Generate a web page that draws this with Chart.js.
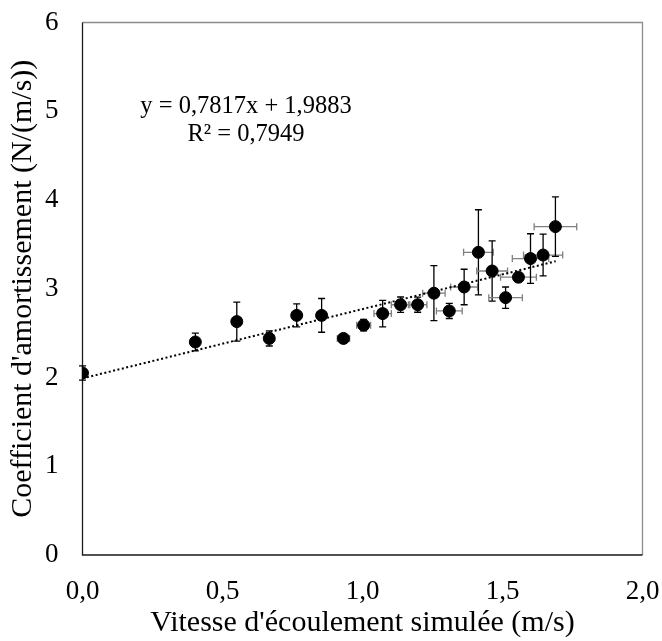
<!DOCTYPE html>
<html>
<head>
<meta charset="utf-8">
<script src="https://cdn.jsdelivr.net/npm/chart.js@4/dist/chart.umd.min.js"></script>
<style>
  html, body { margin: 0; padding: 0; background: #fff; }
  #wrap { width: 662px; height: 641px; }
</style>
</head>
<body>
<div id="wrap"><canvas id="amortChart" width="662" height="641"></canvas></div>
<script>
// données
const vitesse = [0, 0.403, 0.551, 0.667, 0.765, 0.854, 0.932, 1.004, 1.072, 1.136, 1.197,
  1.255, 1.310, 1.363, 1.414, 1.463, 1.511, 1.557, 1.600, 1.645, 1.689];
const coefficient = [2.05, 2.40, 2.63, 2.44, 2.70, 2.70, 2.44, 2.59, 2.72, 2.82, 2.82,
  2.95, 2.75, 3.02, 3.41, 3.20, 2.90, 3.13, 3.34, 3.38, 3.70];
const erreurY = [0.08, 0.10, 0.22, 0.085, 0.13, 0.19, 0.03, 0.064, 0.15, 0.087, 0.085,
  0.31, 0.085, 0.20, 0.48, 0.34, 0.12, 0.05, 0.28, 0.235, 0.336];
const erreurX = [0, 0, 0, 0, 0, 0, 0.022, 0.025, 0.031, 0.033, 0.033,
  0.04, 0.046, 0.048, 0.053, 0.055, 0.06, 0.064, 0.065, 0.07, 0.076];
const tendanceX = [0, 1.69];
const tendanceY = [1.99, 3.31];
const xTickLabels = ['0,0', '0,5', '1,0', '1,5', '2,0'];
const equation = ['y = 0,7817x + 1,9883', 'R² = 0,7949'];
const equationPos = [0.584, 5.05];

const serif = "'Liberation Serif', 'Times New Roman', serif";

// barres d'erreur + cadre
const errorBars = {
  id: 'errorBars',
  beforeDatasetsDraw(chart) {
    const { ctx, scales: { x, y } } = chart;
    const left = x.getPixelForValue(x.min), right = x.getPixelForValue(x.max);
    const top = y.getPixelForValue(y.max), bottom = y.getPixelForValue(y.min);
    ctx.save();
    // cadre de la zone de tracé
    ctx.lineWidth = 1.3;
    ctx.strokeStyle = '#8c8c8c';
    ctx.beginPath();
    ctx.moveTo(left, top); ctx.lineTo(right, top); ctx.lineTo(right, bottom);
    ctx.stroke();
    ctx.strokeStyle = '#1a1a1a';
    ctx.beginPath();
    ctx.moveTo(left, top); ctx.lineTo(left, bottom); ctx.lineTo(right, bottom);
    ctx.stroke();

    const cap = 3.5;
    vitesse.forEach((vx, i) => {
      const px = x.getPixelForValue(vx);
      const py = y.getPixelForValue(coefficient[i]);
      if (erreurX[i] > 0) {
        const x1 = x.getPixelForValue(vx - erreurX[i]);
        const x2 = x.getPixelForValue(vx + erreurX[i]);
        ctx.strokeStyle = '#808080';
        ctx.lineWidth = 1.3;
        ctx.beginPath();
        ctx.moveTo(x1, py); ctx.lineTo(x2, py);
        ctx.moveTo(x1, py - cap); ctx.lineTo(x1, py + cap);
        ctx.moveTo(x2, py - cap); ctx.lineTo(x2, py + cap);
        ctx.stroke();
      }
      if (erreurY[i] > 0) {
        const y1 = y.getPixelForValue(coefficient[i] + erreurY[i]);
        const y2 = y.getPixelForValue(coefficient[i] - erreurY[i]);
        ctx.strokeStyle = '#000';
        ctx.lineWidth = 1.3;
        ctx.beginPath();
        ctx.moveTo(px, y1); ctx.lineTo(px, y2);
        ctx.moveTo(px - cap, y1); ctx.lineTo(px + cap, y1);
        ctx.moveTo(px - cap, y2); ctx.lineTo(px + cap, y2);
        ctx.stroke();
      }
    });
    ctx.restore();
  },
  afterDraw(chart) {
    const { ctx, scales: { x, y } } = chart;
    const cx = x.getPixelForValue(equationPos[0]);
    const cy = y.getPixelForValue(equationPos[1]);
    ctx.save();
    ctx.fillStyle = '#000';
    ctx.font = '24.5px ' + serif;
    ctx.textAlign = 'center';
    ctx.textBaseline = 'middle';
    ctx.fillText(equation[0], cx, cy);
    ctx.fillText(equation[1], cx, cy + 28);
    ctx.restore();
  }
};

const ctx = document.getElementById('amortChart').getContext('2d');
new Chart(ctx, {
  type: 'scatter',
  data: {
    datasets: [
      {
        label: 'Mesures',
        data: vitesse.map((v, i) => ({ x: v, y: coefficient[i] })),
        backgroundColor: '#000',
        borderColor: '#000',
        pointRadius: 6,
        pointHoverRadius: 6,
        order: 1
      },
      {
        label: 'Tendance',
        type: 'line',
        data: tendanceX.map((v, i) => ({ x: v, y: tendanceY[i] })),
        borderColor: '#000',
        borderWidth: 2,
        borderDash: [2, 2.5],
        pointRadius: 0,
        fill: false,
        order: 2
      }
    ]
  },
  options: {
    responsive: false,
    animation: false,
    devicePixelRatio: 1,
    layout: { padding: { top: 22.5, right: 19.5, left: 0, bottom: 0 } },
    plugins: {
      legend: { display: false },
      tooltip: { enabled: false }
    },
    scales: {
      x: {
        type: 'linear',
        min: 0,
        max: 2,
        afterFit(scale) {
          scale.height = 86;
          scale.paddingLeft = 0;
          scale.paddingRight = 0;
        },
        afterBuildTicks(scale) {
          scale.ticks = xTickLabels.map((t, i) => ({ value: i * 0.5 }));
        },
        grid: { display: false, drawTicks: false },
        border: { display: false },
        ticks: {
          padding: 21,
          color: '#000',
          font: { family: serif, size: 27 },
          callback: (v, i) => xTickLabels[i]
        },
        title: {
          display: true,
          text: "Vitesse d'écoulement simulée (m/s)",
          color: '#000',
          font: { family: serif, size: 30 },
          padding: { top: 0, bottom: 0 }
        }
      },
      y: {
        min: 0,
        max: 6,
        afterFit(scale) {
          scale.width = 82.5;
          scale.paddingTop = 0;
          scale.paddingBottom = 0;
        },
        grid: { display: false, drawTicks: false },
        border: { display: false },
        ticks: {
          stepSize: 1,
          padding: 24,
          color: '#000',
          font: { family: serif, size: 27 }
        },
        title: {
          display: true,
          text: "Coefficient d'amortissement (N/(m/s))",
          color: '#000',
          font: { family: serif, size: 30 },
          padding: { top: 5, bottom: 0 }
        }
      }
    }
  },
  plugins: [errorBars]
});
</script>
</body>
</html>
